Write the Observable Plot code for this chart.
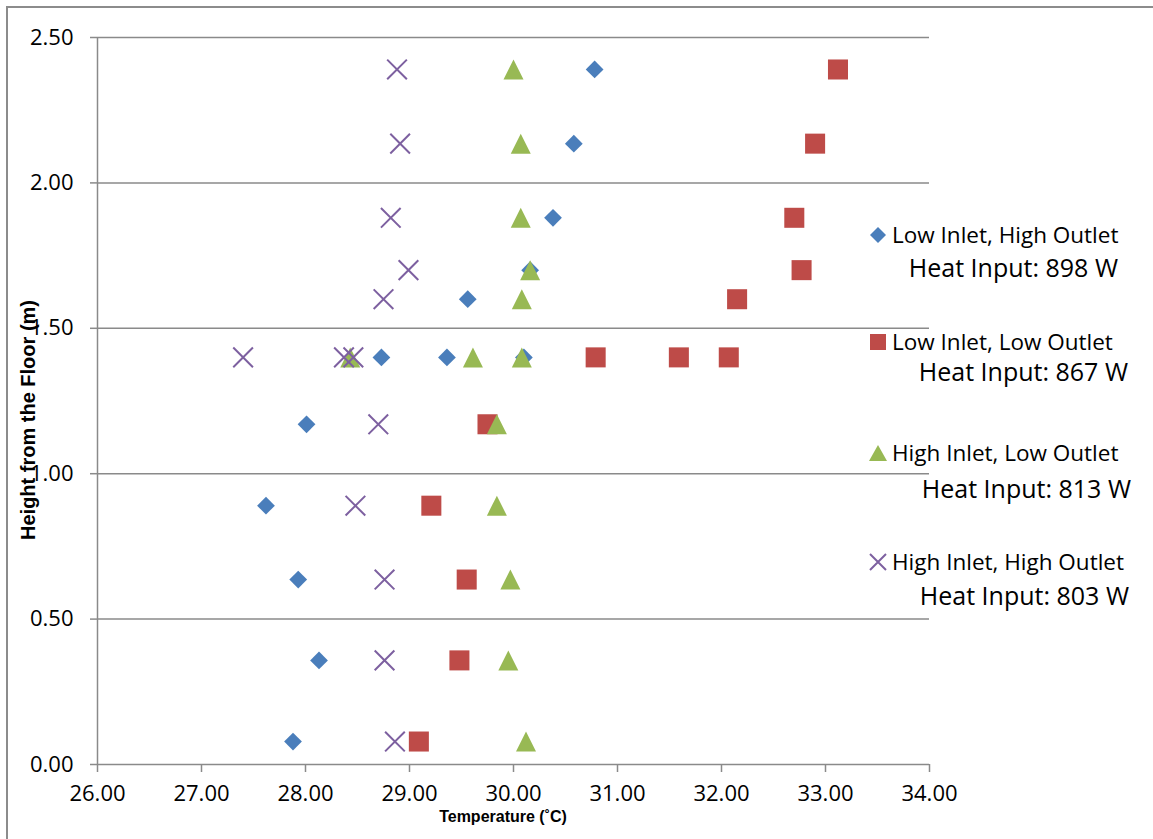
<!DOCTYPE html>
<html>
<head>
<meta charset="utf-8">
<script src="https://cdn.jsdelivr.net/npm/d3@7"></script>
<script src="https://cdn.jsdelivr.net/npm/@observablehq/plot@0.6"></script>
<style>
  html, body { margin: 0; padding: 0; background: #fff; }
  #wrap { position: relative; width: 1153px; height: 839px; overflow: hidden; }
  #frame { position: absolute; left: 6px; top: 6px; width: 1200px; height: 900px; border-left: 2px solid #8c8c8c; border-top: 2px solid #8c8c8c; pointer-events: none; }
  .lg { position: absolute; font-family: "Open Sans", Lato, sans-serif; font-size: 22.5px; color: #000; white-space: nowrap; line-height: 0.9; }
  .ttl { position: absolute; font-family: "Liberation Sans", Arial, sans-serif; font-weight: bold; color: #000; white-space: nowrap; line-height: 1; }
</style>
</head>
<body>
<div id="wrap"><div id="frame"></div></div>
<script>
// Heights (m) shared by all series
const heights = [2.39, 2.135, 1.88, 1.70, 1.60, 1.40, 1.40, 1.40, 1.17, 0.89, 0.636, 0.358, 0.079];
// Temperatures (°C) per configuration
const lowInHighOut  = [30.78, 30.58, 30.38, 30.16, 29.56, 28.73, 29.36, 30.10, 28.01, 27.62, 27.93, 28.13, 27.88];
const lowInLowOut   = [33.12, 32.90, 32.70, 32.77, 32.15, 30.79, 31.59, 32.07, 29.75, 29.21, 29.55, 29.48, 29.09];
const highInLowOut  = [30.00, 30.07, 30.07, 30.16, 30.08, 28.43, 29.61, 30.08, 29.84, 29.84, 29.97, 29.95, 30.12];
const highInHighOut = [28.88, 28.91, 28.82, 28.99, 28.75, 27.40, 28.37, 28.46, 28.70, 28.48, 28.76, 28.76, 28.86];
const seriesNames = ["Low Inlet, High Outlet", "Low Inlet, Low Outlet", "High Inlet, Low Outlet", "High Inlet, High Outlet"];
const heatInputs = ["Heat Input: 898 W", "Heat Input: 867 W", "Heat Input: 813 W", "Heat Input: 803 W"];
const xTicks = [26, 27, 28, 29, 30, 31, 32, 33, 34];
const yTicks = [0, 0.5, 1.0, 1.5, 2.0, 2.5];

const colors = ["#4a7ebb", "#be4b48", "#98b954", "#7d60a0"];
const toRows = (temps) => temps.map((t, i) => ({t, h: heights[i]}));

// Excel-style triangle: bounding box centred on the point
const excelTriangle = {
  draw(context, size) {
    const s = Math.sqrt(size / Math.PI);
    context.moveTo(0, -s);
    context.lineTo(s, s);
    context.lineTo(-s, s);
    context.closePath();
  }
};

const plot = Plot.plot({
  width: 1153,
  height: 839,
  marginLeft: 97,
  marginRight: 224,
  marginTop: 37,
  marginBottom: 75,
  style: {fontFamily: "'Open Sans', Lato, sans-serif", fontSize: "22px", background: "transparent", overflow: "visible"},
  x: {domain: [26, 34], ticks: xTicks},
  y: {domain: [0, 2.5], ticks: yTicks},
  marks: [
    Plot.gridY(yTicks.filter(d => d > 0), {stroke: "#8a8a8a", strokeOpacity: 1, strokeWidth: 1.5}),
    Plot.ruleX([26], {stroke: "#8a8a8a", strokeWidth: 1.5}),
    Plot.ruleY([0], {stroke: "#8a8a8a", strokeWidth: 1.5}),
    Plot.axisY({ticks: yTicks, tickSize: 7, tickPadding: 17, stroke: "#8a8a8a", strokeWidth: 1.5, fill: "#000", tickFormat: d3.format(".2f"), label: null, fontSize: 22}),
    Plot.axisX({ticks: xTicks, tickSize: 8, tickPadding: 13, stroke: "#8a8a8a", strokeWidth: 1.5, fill: "#000", tickFormat: d3.format(".2f"), label: null, fontSize: 22}),
    Plot.dot(toRows(lowInHighOut), {x: "t", y: "h", symbol: "diamond2", r: 8, fill: colors[0], stroke: "none"}),
    Plot.dot(toRows(lowInLowOut), {x: "t", y: "h", symbol: "square", r: 11.3, fill: colors[1], stroke: "none"}),
    Plot.dot(toRows(highInLowOut), {x: "t", y: "h", symbol: excelTriangle, r: 10, fill: colors[2], stroke: "none"}),
    Plot.dot(toRows(highInHighOut), {x: "t", y: "h", symbol: "times", r: 9, stroke: colors[3], strokeWidth: 2, fill: "none"})
  ]
});
const wrap = document.getElementById("wrap");
plot.style.position = "absolute";
plot.style.left = "0px";
plot.style.top = "0px";
wrap.insertBefore(plot, wrap.firstChild);

// Axis titles
const yt = document.createElement("div");
yt.className = "ttl";
yt.textContent = "Height from the Floor (m)";
yt.style.fontSize = "20px";
yt.style.left = "28px";
yt.style.top = "420px";
yt.style.transform = "translate(-50%, -50%) rotate(-90deg)";
wrap.appendChild(yt);

const xt = document.createElement("div");
xt.className = "ttl";
xt.textContent = "Temperature (\u02daC)";
xt.style.fontSize = "16px";
xt.style.left = "503px";
xt.style.top = "817px";
xt.style.transform = "translate(-50%, -50%)";
wrap.appendChild(xt);

// Legend
const symSvgs = [
  `<svg width="20" height="20" viewBox="-10 -10 20 20"><path d="M0,-8L8,0L0,8L-8,0Z" fill="${colors[0]}"/></svg>`,
  `<svg width="20" height="20" viewBox="-10 -10 20 20"><rect x="-8" y="-8" width="16" height="16" fill="${colors[1]}"/></svg>`,
  `<svg width="20" height="20" viewBox="-10 -10 20 20"><path d="M0,-8L9,8L-9,8Z" fill="${colors[2]}"/></svg>`,
  `<svg width="20" height="20" viewBox="-10 -10 20 20"><path d="M-8,-8L8,8M8,-8L-8,8" stroke="${colors[3]}" stroke-width="2" fill="none"/></svg>`
];
const nameY = [235, 342, 453, 562];
const heatY = [267, 371, 488, 595];
const heatRight = [1118, 1128, 1131, 1129];
seriesNames.forEach((name, i) => {
  const s = document.createElement("div");
  s.style.position = "absolute";
  s.style.left = "868px";
  s.style.top = (nameY[i] - 10) + "px";
  s.innerHTML = symSvgs[i];
  wrap.appendChild(s);
  const n = document.createElement("div");
  n.className = "lg";
  n.textContent = name;
  n.style.left = "892px";
  n.style.top = nameY[i] + "px";
  n.style.transform = "translateY(-50%)";
  wrap.appendChild(n);
  const h = document.createElement("div");
  h.className = "lg";
  h.textContent = heatInputs[i];
  h.style.fontSize = "25px";
  h.style.right = (1153 - heatRight[i]) + "px";
  h.style.top = heatY[i] + "px";
  h.style.transform = "translateY(-50%)";
  wrap.appendChild(h);
});
</script>
</body>
</html>
